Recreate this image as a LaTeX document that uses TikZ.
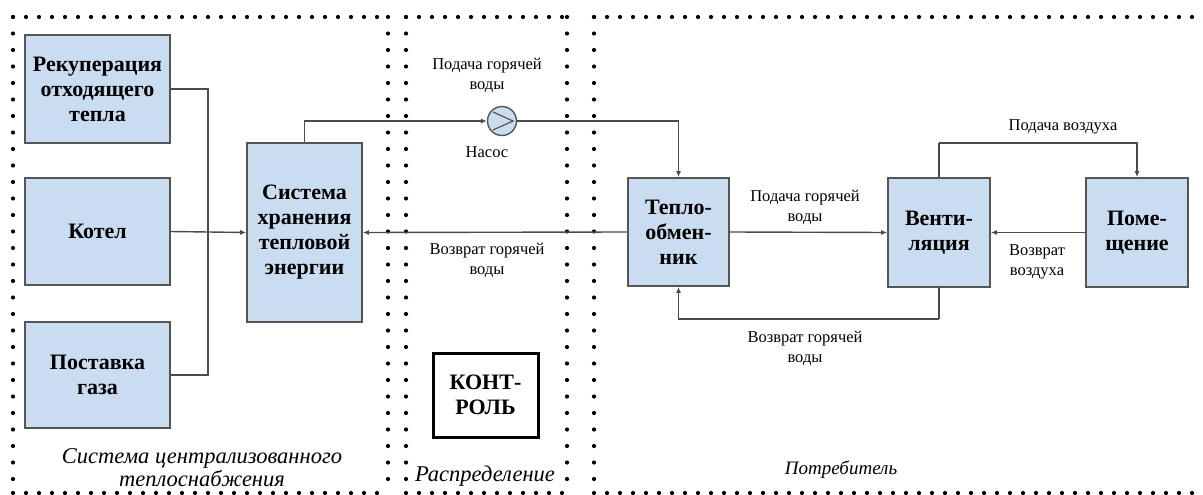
\documentclass[tikz,border=0pt]{standalone}
\usepackage{fontspec}
\setmainfont{Liberation Serif}
\newfontfamily\tms{Liberation Serif}
\usetikzlibrary{arrows.meta}
\definecolor{boxfill}{RGB}{201,220,240}
\definecolor{boxline}{RGB}{85,85,85}
\definecolor{linecol}{RGB}{75,75,75}
\tikzset{
  blk/.style={draw=boxline, fill=boxfill, line width=1.6pt, inner sep=0pt, align=center,
    font=\tms\fontsize{22}{25}\selectfont\bfseries},
  conn/.style={draw=linecol, line width=1.4pt},
  arr/.style={conn, -{Latex[length=6pt,width=5pt]}},
  lbl/.style={align=center, inner sep=0pt, font=\tms\fontsize{16.5}{20}\selectfont},
  ital/.style={align=center, inner sep=0pt, font=\tms\fontsize{22.5}{23}\selectfont\itshape},
  dotsh/.style={line width=4.2pt, line cap=round, dash pattern=on 0pt off 13pt},
  dotsv/.style={line width=4.2pt, line cap=round, dash pattern=on 0pt off 16.5pt},
}
\begin{document}
\begin{tikzpicture}[x=1pt,y=-1pt]
\useasboundingbox (0,0) rectangle (1203,495);
% dotted regions
\draw[dotsh] (13,17) -- (388,17);
\draw[dotsh] (13,493) -- (388,493);
\draw[dotsv] (13,17) -- (13,493);
\draw[dotsv] (388,17) -- (388,493);
\draw[dotsh] (406,17) -- (567,17);
\draw[dotsh] (406,493) -- (567,493);
\draw[dotsv] (406,17) -- (406,493);
\draw[dotsv] (567,17) -- (567,493);
\draw[dotsh] (594,17) -- (1210,17);
\draw[dotsh] (594,493) -- (1210,493);
\draw[dotsv] (594,17) -- (594,493);
% boxes
\node[blk, minimum width=145, minimum height=108] (rek) at (97.5,89) {Рекуперация\\отходящего\\тепла};
\node[blk, minimum width=145, minimum height=107] (kot) at (97.5,231.5) {Котел};
\node[blk, minimum width=145, minimum height=106] (gas) at (97.5,375) {Поставка\\газа};
\node[blk, minimum width=115, minimum height=179] (sys) at (304.5,232.5) {Система\\хранения\\тепловой\\энергии};
\node[blk, minimum width=101, minimum height=108] (heat) at (678.5,232) {Тепло-\\обмен-\\ник};
\node[blk, minimum width=102, minimum height=109] (vent) at (939,232.5) {Венти-\\ляция};
\node[blk, minimum width=102, minimum height=109] (room) at (1137,232.5) {Поме-\\щение};
\node[draw=black, line width=3pt, minimum width=105, minimum height=84, inner sep=0pt, align=center,
  font=\tms\fontsize{22}{25}\selectfont\bfseries] (ctrl) at (485.5,395) {КОНТ-\\РОЛЬ};
% pump
\node[circle, draw=boxline, fill=boxfill, line width=1.4pt, minimum size=29, inner sep=0pt] (pump) at (502,121) {};
\draw[boxline, line width=1.2pt] ([xshift=-9,yshift=-9]pump.center) -- ([xshift=11]pump.center) -- ([xshift=-9,yshift=9]pump.center);
% junction coordinates
\coordinate (j) at (208,232);
\coordinate (rb) at (939,319);
\coordinate (at) at (939,143);
% connectors
\draw[conn] (rek.east) -| (j) |- (gas.east);
\draw[arr] (kot.east) -- (sys.west);
\draw[arr] (sys.north) |- (pump.west);
\draw[arr] (pump.east) -| (heat.north);
\draw[arr] (heat.west) -- (sys.east);
\draw[arr] (heat.east) -- (vent.west);
\draw[conn] (vent.south) -- (rb);
\draw[arr] (rb) -| (heat.south);
\draw[conn] (vent.north) -- (at);
\draw[arr] (at) -| (room.north);
\draw[arr] (room.west) -- (vent.east);
% labels
\node[lbl] (l1) at (487,75) {Подача горячей\\воды};
\node[lbl] (l2) at (487,152) {Насос};
\node[lbl] (l3) at (487,260) {Возврат горячей\\воды};
\node[lbl] (l4) at (805,207) {Подача горячей\\воды};
\node[lbl] (l5) at (805,348) {Возврат горячей\\воды};
\node[lbl] (l6) at (1063,127) {Подача воздуха};
\node[lbl] (l7) at (1037,262) {Возврат\\воздуха};
\node[ital] (t1) at (202,468) {Система централизованного\\теплоснабжения};
\node[ital] (t2) at (485,476) {Распределение};
\node[ital, font=\tms\fontsize{19}{23}\selectfont\itshape] (t3) at (841,470) {Потребитель};
\end{tikzpicture}
\end{document}
